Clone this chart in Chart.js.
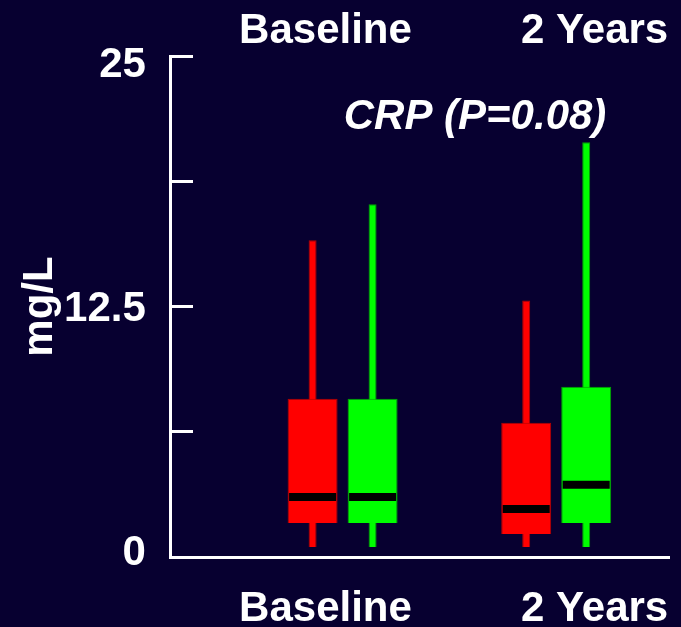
<!DOCTYPE html>
<html>
<head>
<meta charset="utf-8">
<script src="https://cdn.jsdelivr.net/npm/chart.js@4/dist/chart.umd.min.js"></script>
<style>
html,body{margin:0;padding:0;background:#070030;overflow:hidden}
canvas{display:block}
</style>
</head>
<body>
<canvas id="c" width="681" height="627"></canvas>
<script>
// ---- data (mg/L) ----
const categories = ['Baseline', '2 Years'];
const redLow = [0.5, 0.5];
const redQ1 = [1.7, 1.15];
const redMedian = [3.0, 2.4];
const redQ3 = [7.9, 6.7];
const redHigh = [15.8, 12.8];
const greenLow = [0.5, 0.5];
const greenQ1 = [1.7, 1.7];
const greenMedian = [3.0, 3.6];
const greenQ3 = [7.9, 8.5];
const greenHigh = [17.6, 20.7];
const yTickMarks = [0, 6.25, 12.5, 18.75, 25];
const yTickLabels = [0, 12.5, 25];
const yAxisTitle = 'mg/L';
const noteText = 'CRP (P=0.08)';

// ---- layout / style ----
const FONT = '"Liberation Sans", Arial, Helvetica, sans-serif';
const X_MIN = -0.804, X_MAX = 1.528;
const X_LABEL_AT = [-0.08, 1.18];
const NOTE_AT = { x: 0.62, y: 21.95 };
const YL_MIN = -0.205, YL_MAX = 25.461;

const xs = categories.map((_, i) => i);
const span = (lo, hi) => xs.map(i => ({ x: i, y: [lo[i], hi[i]] }));

const base = { barThickness: 60, grouped: true };
const datasets = [
  Object.assign({ label: 'Red median', data: span(redMedian, redMedian), stack: 'red', order: 0,
    backgroundColor: '#000000', borderWidth: 0, maxBarThickness: 39, inflateAmount: 4 }, base),
  Object.assign({ label: 'Green median', data: span(greenMedian, greenMedian), stack: 'green', order: 0,
    backgroundColor: '#000000', borderWidth: 0, maxBarThickness: 39, inflateAmount: 4 }, base),
  Object.assign({ label: 'Red box', data: span(redQ1, redQ3), stack: 'red', order: 1,
    backgroundColor: '#ff0000', borderColor: '#b40000', borderWidth: 1, maxBarThickness: 50, inflateAmount: 0 }, base),
  Object.assign({ label: 'Green box', data: span(greenQ1, greenQ3), stack: 'green', order: 1,
    backgroundColor: '#00ff00', borderColor: '#00a400', borderWidth: 1, maxBarThickness: 50, inflateAmount: 0 }, base),
  Object.assign({ label: 'Red whisker', data: span(redLow, redHigh), stack: 'red', order: 2,
    backgroundColor: '#ff0000', borderColor: '#b40000', borderWidth: 1, maxBarThickness: 8, inflateAmount: 0 }, base),
  Object.assign({ label: 'Green whisker', data: span(greenLow, greenHigh), stack: 'green', order: 2,
    backgroundColor: '#00ff00', borderColor: '#00a400', borderWidth: 1, maxBarThickness: 8, inflateAmount: 0 }, base)
];

const labelFont = { family: FONT, size: 42, weight: 'bold', lineHeight: 1 };

const notePlugin = {
  id: 'noteText',
  afterDatasetsDraw(chart) {
    const { ctx, scales } = chart;
    ctx.save();
    ctx.font = 'italic bold 42px ' + FONT;
    ctx.fillStyle = '#ffffff';
    ctx.textAlign = 'center';
    ctx.textBaseline = 'middle';
    ctx.fillText(noteText, scales.x.getPixelForValue(NOTE_AT.x), scales.y.getPixelForValue(NOTE_AT.y));
    ctx.restore();
  }
};

new Chart(document.getElementById('c'), {
  type: 'bar',
  data: { datasets },
  plugins: [notePlugin],
  options: {
    responsive: false,
    animation: false,
    events: [],
    layout: { padding: { left: 39, right: 12, top: 10, bottom: -3 } },
    plugins: { legend: { display: false }, tooltip: { enabled: false } },
    scales: {
      x: {
        type: 'linear', position: 'bottom', min: X_MIN, max: X_MAX, offset: false,
        afterBuildTicks: (s) => { s.ticks = X_LABEL_AT.map(v => ({ value: v })); },
        ticks: { color: '#ffffff', font: labelFont, padding: 0, maxRotation: 0, autoSkip: false,
          callback: (v, i) => categories[i] },
        grid: { display: true, offset: false, drawOnChartArea: false, drawTicks: true, tickLength: 31, tickColor: 'rgba(0,0,0,0)' },
        border: { display: true, color: '#ffffff', width: 3 }
      },
      xTop: {
        type: 'linear', axis: 'x', position: 'top', min: X_MIN, max: X_MAX, offset: false,
        afterBuildTicks: (s) => { s.ticks = X_LABEL_AT.map(v => ({ value: v })); },
        ticks: { color: '#ffffff', font: labelFont, padding: 0, maxRotation: 0, autoSkip: false,
          callback: (v, i) => categories[i] },
        grid: { display: true, offset: false, drawOnChartArea: false, drawTicks: true, tickLength: 4, tickColor: 'rgba(0,0,0,0)' },
        border: { display: false }
      },
      y: {
        type: 'linear', axis: 'y', position: { x: X_MIN }, min: 0, max: 25, stacked: false,
        afterBuildTicks: (s) => { s.ticks = yTickMarks.map(v => ({ value: v })); },
        ticks: { display: false },
        grid: { display: true, drawOnChartArea: false, drawTicks: true, tickLength: -24,
          color: '#ffffff', lineWidth: 3, tickWidth: 3, tickColor: '#ffffff' },
        border: { display: true, color: '#ffffff', width: 3 }
      },
      yl: {
        type: 'linear', axis: 'y', position: 'left', min: YL_MIN, max: YL_MAX,
        afterBuildTicks: (s) => { s.ticks = yTickLabels.map(v => ({ value: v })); },
        ticks: { color: '#ffffff', font: labelFont, padding: 17, callback: (v) => String(v) },
        grid: { display: false },
        border: { display: false },
        title: { display: true, text: yAxisTitle, color: '#ffffff', padding: { top: 0, bottom: 6 },
          font: { family: FONT, size: 42, weight: 'bold', lineHeight: 0.05 } }
      }
    }
  }
});
</script>
</body>
</html>
